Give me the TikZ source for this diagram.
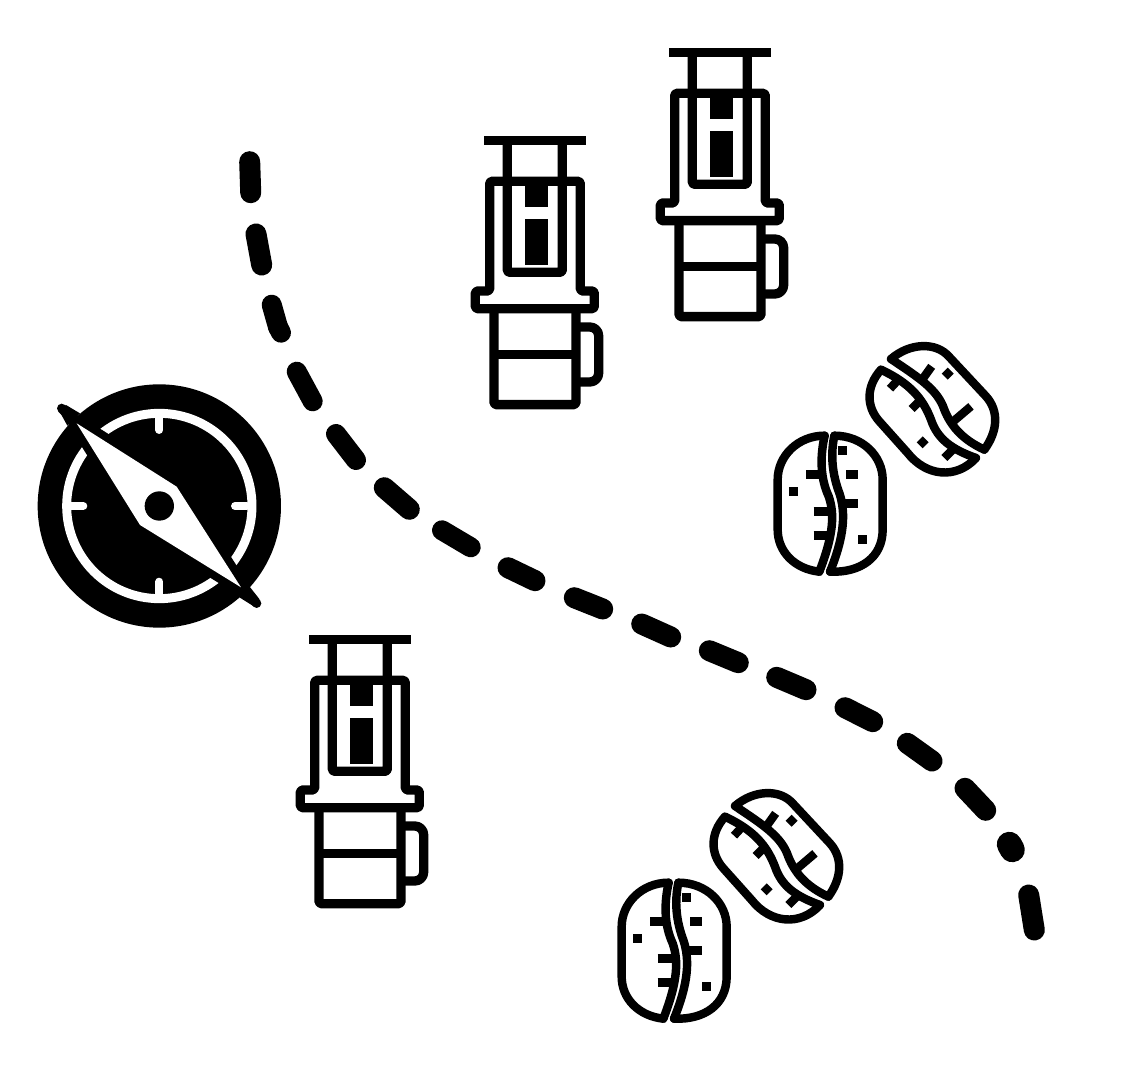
\documentclass[tikz,border=0pt]{standalone}

\tikzset{
  pressline/.style={line width=5.3pt, line join=round},
  beanline/.style={line width=4.8pt, line join=round, line cap=round},
  tickline/.style={line width=4.8pt, line cap=butt},
  press/.pic={
    \begin{scope}[x=0.00667cm, y=-0.00667cm]
      % Plunger
      \fill (58,44) rectangle (362,72);
      \draw[pressline, rounded corners=1pt] (127,58) -- (127,454) -- (292,454) -- (292,58);
      \fill (180,190) rectangle (249,258);
      \fill (180,293) rectangle (249,432);
      % Chamber with flange
      \draw[pressline, rounded corners=1pt] (74,181) -- (74,510) -- (31,510) -- (31,563)
        -- (388,563) -- (388,510) -- (346,510) -- (346,181) -- cycle;
      % Mug
      \draw[pressline, rounded corners=1pt] (87,563) -- (87,851) -- (333,851) -- (333,563);
      \draw[pressline] (87,701) -- (333,701);
      \draw[pressline, rounded corners=5pt] (333,618) -- (401,618) -- (401,783) -- (333,783);
    \end{scope}
  },
  beans/.pic={
    \begin{scope}[x=0.00667cm, y=-0.00667cm]
      % Upright bean
      \draw[beanline] (176,308) .. controls (95,308) and (35,370) .. (35,440) -- (35,590)
        .. controls (35,655) and (85,708) .. (160,716);
      \draw[beanline] (176,308) .. controls (160,380) and (165,440) .. (188,490)
        .. controls (205,540) and (205,600) .. (160,716);
      \draw[beanline] (205,308) .. controls (290,308) and (350,370) .. (350,440) -- (350,590)
        .. controls (350,672) and (285,720) .. (192,716);
      \draw[beanline] (205,308) .. controls (190,380) and (205,440) .. (220,480)
        .. controls (240,540) and (235,610) .. (192,716);
      \draw[tickline] (120,425) -- (165,425);
      \draw[tickline] (143,536) -- (190,536);
      \draw[tickline] (143,608) -- (185,608);
      \draw[tickline] (215,353) -- (243,353);
      \draw[tickline] (241,425) -- (277,425);
      \draw[tickline] (235,511) -- (277,511);
      \fill (70,462) rectangle (97,488);
      \fill (277,607) rectangle (303,633);
      % Tilted bean
      \draw[beanline] (375,78) .. controls (430,30) and (510,25) .. (550,72) -- (660,190)
        .. controls (700,235) and (695,295) .. (655,350);
      \draw[beanline] (655,350) .. controls (590,320) and (555,280) .. (535,230)
        .. controls (515,170) and (460,135) .. (375,78);
      \draw[beanline] (345,110) .. controls (300,160) and (300,220) .. (340,265) -- (425,360)
        .. controls (480,430) and (570,440) .. (630,375);
      \draw[beanline] (630,375) .. controls (560,350) and (515,320) .. (495,260)
        .. controls (470,195) and (430,150) .. (345,110);
      \draw[tickline] (472,135) -- (497,100);
      \draw[tickline] (536,131) -- (554,113);
      \draw[tickline] (562,265) -- (615,220);
      \draw[tickline] (397,140) -- (372,167);
      \draw[tickline] (470,195) -- (437,228);
      \draw[tickline] (461,337) -- (479,319);
      \draw[tickline] (565,345) -- (535,375);
    \end{scope}
  },
}

\begin{document}
\begin{tikzpicture}[x=0.02cm, y=-0.02cm]
  \useasboundingbox (0,0) rectangle (1125,1084);

  % Brewers
  \pic at (290,620) {press};
  \pic at (465,121) {press};
  \pic at (650,33) {press};

  % Bean pairs
  \pic at (610,780) {beans};
  \pic at (766,333) {beans};

  % Route
  \foreach \xa/\ya/\xb/\yb/\wd in {
    249.7/161.7/250.7/192.7/21, 256/234/261.7/265/21, 271.7/304.7/278/327/20,
    278/327/281/332.7/20, 296.7/371.7/312.7/401.3/20, 336/434/356/460/20,
    384.3/487.7/409.3/509.3/21, 442/530.3/470.7/547.3/20, 508/567.7/535/580.7/21,
    574.3/597.7/602.7/609/21, 641.7/624/670.7/637/21, 709.3/650.7/738.3/662.7/21,
    776.7/677.3/806/689.7/21, 845/707.7/872.7/721.7/21, 907.3/743.3/932/761/21,
    965/788.3/985.7/810.3/21, 1009.3/844.3/1012.3/849.7/25, 1028.7/895/1034.3/930/21}
    \draw[line width=\wd*0.02cm, line cap=round] (\xa,\ya) -- (\xb,\yb);

  % Compass
  \begin{scope}[shift={(30,375)}, x=0.00667cm, y=-0.00667cm]
    \fill (388,393) circle (365);
    \draw[white, line width=5.1pt] (388,393) circle (278);
    \draw[white, line width=4.5pt, line cap=round] (388,125) -- (388,165);
    \draw[white, line width=4.5pt, line cap=round] (388,660) -- (388,620);
    \draw[white, line width=4.5pt, line cap=round] (125,393) -- (160,393);
    \draw[white, line width=4.5pt, line cap=round] (650,393) -- (615,393);
    % Needle
    \draw[line width=9.1pt, line join=round] (140,145) -- (440,335) -- (633,637) -- (330,450) -- cycle;
    \fill (108,90) -- (150,115) -- (112,152) -- (88,108) -- cycle;
    \fill (688,672) -- (655,630) -- (625,665) -- (668,692) -- cycle;
    \draw[line width=5.3pt, line cap=round] (95,100) -- (140,145);
    \draw[line width=5.3pt, line cap=round] (680,685) -- (633,637);
    \fill[white] (140,145) -- (440,335) -- (633,637) -- (330,450) -- cycle;
    \fill (388,393) circle (44);
  \end{scope}
\end{tikzpicture}
\end{document}
